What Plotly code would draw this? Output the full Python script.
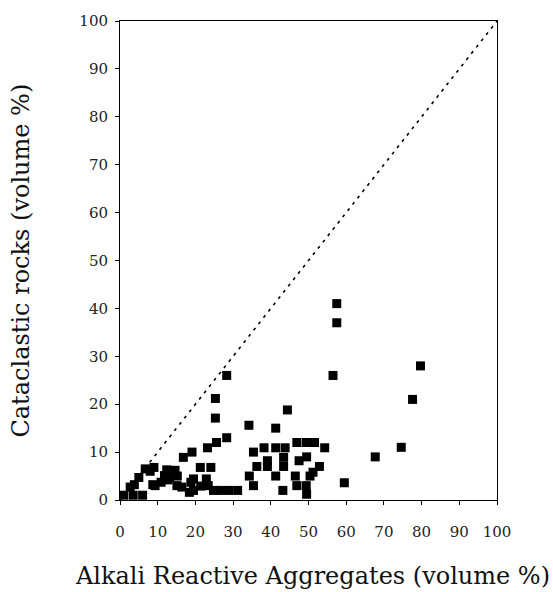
import plotly.graph_objects as go

# Alkali reactive aggregates (x) vs cataclastic rocks (y), volume %
x_vals = [1, 3.5, 6, 2.7, 3.8, 5, 6.7, 9, 8, 8.7, 10.9, 9.3, 11.8, 12.7, 13.1, 12.4, 14.6,
          15.2, 15.1, 16.4, 18.4, 19.5, 19.5, 18.8, 16.8, 19.1, 21.3, 24.1, 21.4, 23.4, 22.9,
          23.2, 25.6, 28.3, 25.3, 25.3, 28.3, 24.8, 26.6, 28.8, 31.2,
          34.2, 41.3, 44.4, 35.4, 38.2, 41.3, 43.8, 46.9, 49.4, 51.6, 54.3, 39.1, 43.4, 47.5,
          49.5, 36.3, 39.1, 43.4, 52.9, 51.2, 34.3, 41.3, 46.5, 50.4, 35.4, 46.9, 49.4, 43.2,
          49.5,
          57.5, 57.5, 56.5, 79.7, 77.6, 74.6, 67.7, 59.5]
y_vals = [1, 1, 1, 2.7, 3.2, 4.7, 6.5, 6.8, 6, 3.2, 3.7, 3, 5.1, 4.2, 4.7, 6.3, 6.2,
          5, 3, 2.7, 1.6, 2, 4.4, 3.7, 8.9, 10, 6.8, 6.8, 2.9, 3, 4.4,
          10.9, 12, 13, 17.1, 21.2, 26, 2, 2, 2, 2,
          15.6, 15, 18.8, 10, 10.9, 10.9, 10.9, 12, 12, 12, 10.9, 8.2, 8.9, 8.2,
          9, 7, 7, 7, 7, 5.8, 5, 5, 5, 5, 3, 3, 3, 2,
          1.2,
          41, 37, 26, 28, 21, 11, 9, 3.6]

tick_vals = [0, 10, 20, 30, 40, 50, 60, 70, 80, 90, 100]
tick_text = [str(v) for v in tick_vals]
x_title = "Alkali Reactive Aggregates (volume %)"
y_title = "Cataclastic rocks (volume %)"

serif = "DejaVu Serif, Liberation Serif, serif"

fig = go.Figure()
fig.add_trace(go.Scatter(
    x=[0, 100], y=[0, 100], mode="lines",
    line=dict(color="black", width=1.6, dash="3px,5px"),
    hoverinfo="skip", showlegend=False))
fig.add_trace(go.Scatter(
    x=x_vals, y=y_vals, mode="markers",
    marker=dict(symbol="square", size=9, color="black", line=dict(width=0)),
    showlegend=False))

axis_common = dict(
    range=[0, 100], tickvals=tick_vals, ticktext=tick_text,
    showgrid=False, zeroline=False, showline=True, linecolor="black", linewidth=1,
    mirror=True, ticks="outside", ticklen=4, tickcolor="black", tickwidth=1,
    tickfont=dict(family=serif, size=15, color="#222"),
)
fig.update_xaxes(**axis_common, ticklabelstandoff=14)
fig.update_yaxes(**axis_common, ticklabelstandoff=4)

fig.add_annotation(text=x_title, xref="paper", yref="paper", x=0.51, y=-0.158,
                   xanchor="center", yanchor="middle", showarrow=False,
                   font=dict(family=serif, size=24, color="#111"))
fig.add_annotation(text=y_title, xref="paper", yref="paper", x=-0.265, y=0.5,
                   xanchor="center", yanchor="middle", showarrow=False, textangle=-90,
                   font=dict(family=serif, size=24, color="#111"))

fig.update_layout(
    width=553, height=592,
    margin=dict(l=120, r=56, t=16, b=92),
    paper_bgcolor="white", plot_bgcolor="white",
)
fig.write_html("out.html")
